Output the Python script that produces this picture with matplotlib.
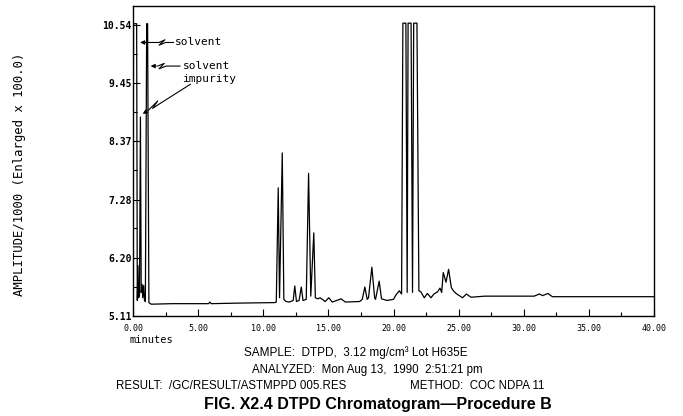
from matplotlib import pyplot as plt
from matplotlib.ticker import FixedLocator
import numpy as np

# trace vertices (minutes, amplitude/1000)
minutes = [0.00, 0.04, 0.28, 0.33, 0.38, 0.43, 0.50, 0.57, 0.63, 0.70, 0.75, 0.82, 0.88, 0.95,
           1.05, 1.12, 1.22, 1.40, 3.00, 5.80, 5.90, 6.00, 8.00, 10.90,
           11.00, 11.15, 11.25, 11.46, 11.58, 11.75, 12.00, 12.30, 12.42, 12.55, 12.75, 12.92, 13.05,
           13.30, 13.48, 13.65, 13.88, 14.00, 14.20, 14.35, 14.54, 14.75, 15.03, 15.30, 15.98, 16.30,
           17.40, 17.60, 17.80, 17.98, 18.08, 18.34, 18.55, 18.62, 18.90, 19.08, 19.50, 20.00, 20.18,
           20.45, 20.62, 20.72, 20.95, 21.05, 21.12, 21.35, 21.46, 21.55, 21.80, 21.95, 22.10, 22.36,
           22.60, 22.88, 23.10, 23.38, 23.57, 23.70, 23.82, 24.03, 24.23, 24.44, 24.60, 24.80, 25.05,
           25.30, 25.60, 25.95, 27.00, 30.80, 31.20, 31.45, 31.85, 32.20, 40.00]
amplitude = [5.25, 10.56, 10.56, 5.40, 6.05, 5.45, 5.50, 8.82, 5.55, 5.70, 5.45, 5.68, 5.40, 5.38,
             10.56, 10.56, 5.36, 5.33, 5.34, 5.34, 5.37, 5.34, 5.35, 5.36,
             5.37, 7.50, 5.45, 8.15, 5.42, 5.38, 5.37, 5.40, 5.67, 5.38, 5.40, 5.65, 5.40,
             5.42, 7.77, 5.48, 6.66, 5.45, 5.43, 5.45, 5.42, 5.38, 5.45, 5.37, 5.43, 5.37,
             5.38, 5.42, 5.65, 5.42, 5.45, 6.02, 5.45, 5.42, 5.76, 5.43, 5.40, 5.42, 5.50,
             5.58, 5.52, 10.57, 10.57, 5.55, 10.57, 10.57, 5.55, 10.57, 10.57, 5.58, 5.56, 5.45,
             5.53, 5.45, 5.52, 5.56, 5.63, 5.55, 5.92, 5.74, 5.98, 5.64, 5.58, 5.53, 5.49,
             5.45, 5.52, 5.46, 5.48, 5.48, 5.52, 5.49, 5.53, 5.47, 5.47]

y_ticks = [5.11, 6.20, 7.28, 8.37, 9.45, 10.54]
x_ticks = [0, 5, 10, 15, 20, 25, 30, 35, 40]

mono = ['DejaVu Sans Mono']
sans = ['Liberation Sans', 'DejaVu Sans']

fig = plt.figure(figsize=(6.83, 4.16), dpi=100)
ax = fig.add_axes([133 / 683, 1 - 316 / 416, 521 / 683, 310 / 416])
ax.plot(minutes, amplitude, color='black', lw=0.9)

ax.set_xlim(0, 40)
ax.set_ylim(5.11, 10.89)
ax.xaxis.set_major_locator(FixedLocator(x_ticks))
ax.xaxis.set_minor_locator(FixedLocator([x + 2.5 for x in x_ticks[:-1]]))
ax.yaxis.set_major_locator(FixedLocator(y_ticks))
ax.yaxis.set_minor_locator(FixedLocator([y + 0.543 for y in y_ticks[:-1]]))
ax.set_xticklabels([f'{x:.2f}' for x in x_ticks], family=mono, fontsize=6)
ax.set_yticklabels([f'{y:.2f}' for y in y_ticks], family=mono, fontsize=7, fontweight='bold')
ax.tick_params(axis='both', which='major', direction='in', length=5, width=0.8)
ax.tick_params(axis='both', which='minor', direction='in', length=3, width=0.8)
ax.tick_params(axis='x', pad=6)
ax.tick_params(axis='y', pad=1)
for s in ax.spines.values():
    s.set_linewidth(1.0)

# peak annotations
ax.annotate('', xy=(0.33, 10.21), xytext=(1.0, 10.21),
            arrowprops=dict(arrowstyle='-|>', color='black', lw=0.8, mutation_scale=6))
ax.plot([0.9, 2.0, 2.45, 2.0, 2.5, 3.1], [10.21, 10.21, 10.26, 10.16, 10.21, 10.21], color='black', lw=0.8)
ax.text(3.2, 10.21, 'solvent', family=mono, fontsize=8, va='center')

ax.annotate('', xy=(1.14, 9.77), xytext=(2.0, 9.77),
            arrowprops=dict(arrowstyle='-|>', color='black', lw=0.8, mutation_scale=6))
ax.plot([1.9, 2.4, 2.0, 2.55, 3.6], [9.77, 9.82, 9.72, 9.77, 9.77], color='black', lw=0.8)
ax.text(3.8, 9.77, 'solvent', family=mono, fontsize=8, va='center')
ax.text(3.8, 9.52, 'impurity', family=mono, fontsize=8, va='center')

ax.annotate('', xy=(0.57, 8.85), xytext=(1.2, 8.95),
            arrowprops=dict(arrowstyle='-|>', color='black', lw=0.8, mutation_scale=6))
ax.plot([1.15, 1.9, 1.5, 2.0, 4.4], [8.94, 9.12, 8.98, 9.06, 9.43], color='black', lw=0.8)

ax.text(-0.006, -0.078, 'minutes', transform=ax.transAxes, family=mono, fontsize=7.5, va='center')

fig.text(20 / 683, 1 - 174 / 416, 'AMPLITUDE/1000 (Enlarged x 100.0)', rotation=90,
         family=mono, fontsize=8.8, ha='center', va='center')

fig.text(244 / 683, 1 - 353 / 416, 'SAMPLE:  DTPD,  3.12 mg/cm³ Lot H635E',
         family=sans, fontsize=8.5, va='center')
fig.text(252 / 683, 1 - 370 / 416, 'ANALYZED:  Mon Aug 13,  1990  2:51:21 pm',
         family=sans, fontsize=8.3, va='center')
fig.text(116 / 683, 1 - 386 / 416, 'RESULT:  /GC/RESULT/ASTMPPD 005.RES', family=sans,
         fontsize=8.3, va='center')
fig.text(410 / 683, 1 - 386 / 416, 'METHOD:  COC NDPA 11', family=sans,
         fontsize=8.3, va='center')
fig.text(378 / 683, 1 - 405 / 416, 'FIG. X2.4 DTPD Chromatogram\u2014Procedure B',
         family=sans, fontsize=11.5, fontweight='bold', ha='center', va='center')

fig.savefig('out.png', dpi=100)
